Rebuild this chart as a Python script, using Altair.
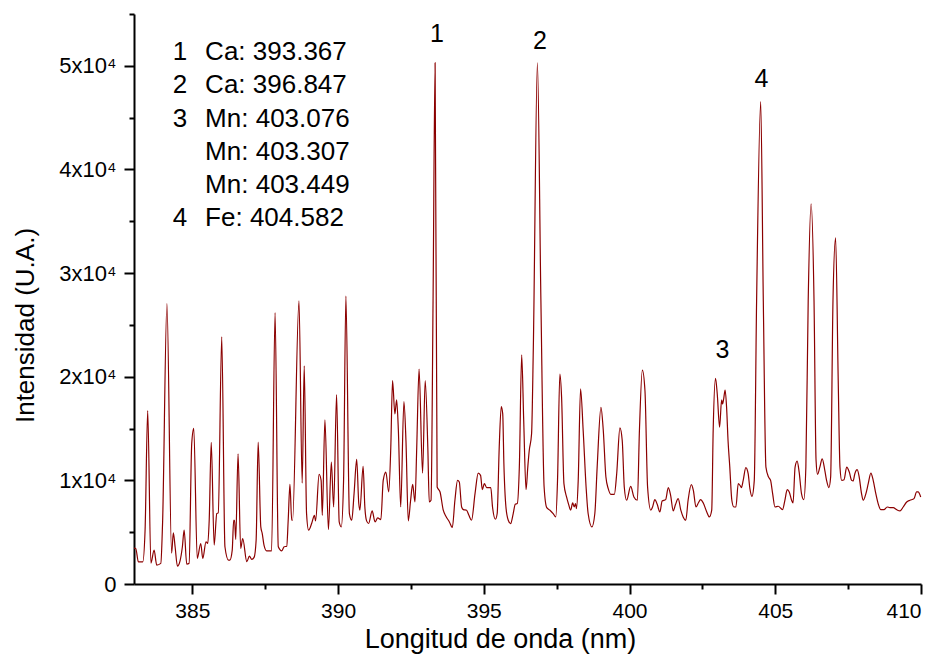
import altair as alt
import pandas as pd

# ---- spectrum (wavelength in nm, intensity in a.u.) ----
wavelength = [
    383.00, 383.06, 383.15, 383.30, 383.38, 383.47, 383.58, 383.69, 383.78, 383.92,
    383.98, 384.13, 384.29, 384.35, 384.41, 384.49, 384.58, 384.66, 384.72, 384.81,
    384.89, 384.98, 385.05, 385.17, 385.29, 385.36, 385.47, 385.53, 385.58, 385.65,
    385.75, 385.84, 385.89, 386.01, 386.12, 386.24, 386.29, 386.37, 386.42, 386.45,
    386.49, 386.57, 386.66, 386.73, 386.87, 386.96, 387.04, 387.12, 387.19, 387.26,
    387.35, 387.40, 387.46, 387.55, 387.72, 387.84, 387.95, 388.07, 388.15, 388.24,
    388.29, 388.35, 388.41, 388.44, 388.66, 388.77, 388.84, 388.92, 388.99, 389.10,
    389.19, 389.23, 389.35, 389.42, 389.46, 389.55, 389.67, 389.77, 389.85, 389.95,
    390.04, 390.11, 390.19, 390.27, 390.39, 390.47, 390.55, 390.64, 390.71, 390.75,
    390.86, 390.92, 390.98, 391.05, 391.17, 391.27, 391.36, 391.47, 391.55, 391.64,
    391.74, 391.81, 391.87, 391.95, 392.01, 392.07, 392.15, 392.26, 392.33, 392.41,
    392.49, 392.56, 392.64, 392.70, 392.78, 392.90, 392.99, 393.08, 393.13, 393.19,
    393.26, 393.33, 393.40, 393.50, 393.61, 393.70, 393.82, 393.92, 394.01, 394.10,
    394.16, 394.24, 394.30, 394.41, 394.49, 394.58, 394.70, 394.81, 394.89, 394.95,
    395.02, 395.10, 395.24, 395.30, 395.40, 395.46, 395.53, 395.60, 395.65, 395.69,
    395.76, 395.84, 395.92, 396.01, 396.08, 396.15, 396.22, 396.30, 396.37, 396.45,
    396.51, 396.56, 396.64, 396.70, 396.84, 396.96, 397.07, 397.16, 397.27, 397.38,
    397.47, 397.53, 397.61, 397.67, 397.75, 397.84, 397.91, 397.98, 398.05, 398.10,
    398.15, 398.18, 398.24, 398.32, 398.41, 398.51, 398.58, 398.71, 398.81, 398.89,
    399.02, 399.10, 399.19, 399.27, 399.36, 399.48, 399.56, 399.67, 399.75, 399.82,
    399.90, 400.04, 400.15, 400.27, 400.34, 400.44, 400.53, 400.62, 400.73, 400.79,
    400.87, 400.95, 401.04, 401.12, 401.24, 401.33, 401.41, 401.50, 401.58, 401.67,
    401.76, 401.84, 401.93, 402.01, 402.12, 402.19, 402.28, 402.36, 402.44, 402.53,
    402.65, 402.74, 402.82, 402.87, 402.95, 403.01, 403.09, 403.16, 403.19, 403.23,
    403.28, 403.33, 403.38, 403.44, 403.51, 403.58, 403.65, 403.73, 403.79, 403.84,
    403.90, 403.99, 404.07, 404.13, 404.20, 404.28, 404.36, 404.50, 404.59, 404.68,
    404.77, 404.84, 404.91, 404.99, 405.10, 405.25, 405.33, 405.41, 405.48, 405.56,
    405.61, 405.68, 405.75, 405.82, 405.90, 405.98, 406.05, 406.13, 406.23, 406.33,
    406.40, 406.45, 406.53, 406.61, 406.70, 406.76, 406.84, 406.90, 406.98, 407.07,
    407.16, 407.22, 407.28, 407.36, 407.45, 407.54, 407.62, 407.67, 407.73, 407.81,
    407.88, 407.96, 408.02, 408.11, 408.19, 408.28, 408.36, 408.45, 408.53, 408.62,
    408.73, 408.84, 408.93, 409.05, 409.16, 409.28, 409.39, 409.51, 409.62, 409.76,
    409.85, 409.90, 409.99,
]

intensity = [
    3460, 3430, 2140, 2140, 5190, 16730, 2020, 3270, 1830, 1990,
    5870, 27050, 2980, 4940, 3590, 1730, 2240, 3590, 5190, 1920,
    1990, 13530, 15030, 2470, 3910, 2470, 4070, 3910, 6150, 13680,
    3750, 6800, 6860, 23850, 3590, 2310, 2310, 3270, 6150, 6150,
    4300, 12560, 3430, 4390, 2150, 2690, 2370, 2570, 4230, 13680,
    5510, 4870, 3750, 3200, 3200, 26180, 3590, 3200, 3590, 3650,
    6150, 9620, 6150, 6150, 27310, 9740, 21060, 6800, 5190, 5890,
    6630, 6090, 10580, 10000, 6630, 15830, 5260, 11760, 7430, 18270,
    5990, 5510, 10000, 27790, 6800, 6150, 8720, 12020, 7820, 7120,
    11350, 7430, 6090, 5840, 7050, 5990, 6380, 6220, 10000, 10800,
    8880, 13200, 19620, 16410, 17760, 14810, 7430, 17600, 13850, 6090,
    8080, 9620, 7910, 13200, 20740, 10700, 19620, 13200, 7910, 8080,
    27310, 50290, 9360, 8880, 7120, 6540, 5990, 5450, 8080, 10000,
    9840, 7430, 7180, 7120, 6630, 6150, 8720, 10700, 10480, 9100,
    9680, 9300, 9300, 7430, 6250, 6800, 13200, 17120, 16410, 11600,
    7430, 6150, 5830, 6800, 7690, 7760, 11280, 22120, 15770, 9100,
    11280, 12880, 14490, 22820, 50290, 27310, 9360, 7370, 7120, 6800,
    6470, 10000, 20260, 18010, 9680, 8400, 7690, 7120, 7820, 7430,
    7760, 7280, 10000, 18820, 14810, 9360, 6800, 5510, 6800, 11280,
    17050, 14810, 10320, 9200, 8650, 8650, 10640, 15070, 13850, 9360,
    8080, 9420, 8400, 8080, 14810, 20640, 18650, 9360, 7120, 7430,
    8140, 7690, 6950, 8010, 8140, 9300, 8560, 7050, 7690, 8240,
    7120, 6470, 6150, 8080, 9580, 9040, 7430, 7820, 8140, 7820,
    6950, 6470, 7120, 14810, 19840, 18340, 15130, 17760, 17370, 17860,
    18720, 17050, 13850, 11280, 8080, 7430, 7430, 9680, 9520, 9300,
    10000, 11220, 10640, 9200, 8460, 10000, 27310, 46540, 27310, 11280,
    10320, 10000, 8720, 7430, 7500, 7180, 8080, 9100, 8880, 8080,
    7820, 11280, 11860, 10800, 8720, 8140, 11280, 27310, 36670, 27310,
    11920, 10580, 11280, 12080, 10960, 10000, 9300, 10320, 27310, 33400,
    19620, 11280, 10000, 10070, 11280, 10800, 10000, 9940, 10640, 11030,
    10320, 8720, 8080, 8720, 9680, 10700, 10000, 8720, 7760, 7180,
    7180, 7430, 7370, 7370, 7180, 7050, 7430, 7910, 8080, 8240,
    8880, 8880, 8400,
]

# ---- axis ticks ----
x_ticks = [385, 387.5, 390, 392.5, 395, 397.5, 400, 402.5, 405, 407.5, 410]
y_ticks = [0, 5000, 10000, 15000, 20000, 25000, 30000, 35000, 40000, 45000, 50000, 55000]

# ---- annotations ----
legend_num = ["1", "2", "3", "", "", "4"]
legend_txt = ["Ca: 393.367", "Ca: 396.847", "Mn: 403.076",
              "Mn: 403.307", "Mn: 403.449", "Fe: 404.582"]
peak_lbl = ["1", "2", "3", "4"]
peak_nm = [393.39, 396.93, 403.19, 404.53]
peak_int = [52330, 51590, 21780, 47990]

FONT = "Liberation Sans"
RED = "#8B0000"

spec = pd.DataFrame({"nm": wavelength, "I": intensity})

legend_top = 50560
legend_step = 3210
leg = pd.DataFrame({
    "num": legend_num,
    "txt": legend_txt,
    "y": [legend_top - i * legend_step for i in range(len(legend_txt))],
})
peaks = pd.DataFrame({"lbl": peak_lbl, "nm": peak_nm, "I": peak_int})

xscale = alt.Scale(domain=[383, 410], nice=False, zero=False)
yscale = alt.Scale(domain=[0, 55000], nice=False, zero=True)

x_axis = alt.Axis(
    values=x_ticks,
    grid=False,
    title="Longitud de onda (nm)",
    titleFont=FONT, titleFontSize=27, titleFontWeight="normal", titleColor="black",
    titleX=366, titleY=63, titleAlign="center", titleBaseline="alphabetic",
    labelFont=FONT, labelFontSize=21, labelColor="black", labelPadding=6,
    labelExpr="datum.value % 5 === 0 ? datum.label : ''",
    labelOverlap=False,
    domainColor="black", domainWidth=2,
    tickColor="black", tickWidth=2,
    tickSize={"condition": {"test": "datum.value % 5 === 0", "value": 10}, "value": 5},
)

y_axis = alt.Axis(
    values=y_ticks,
    grid=False,
    title="Intensidad (U.A.)",
    titleFont=FONT, titleFontSize=26, titleFontWeight="normal", titleColor="black",
    titleX=-96, titleY=311, titleAlign="center", titleAngle=-90,
    labelFont=FONT, labelFontSize=22, labelColor="black", labelPadding=8,
    labelExpr="datum.value === 0 ? '0' : (datum.value % 10000 === 0 ? (datum.value / 10000) + 'x10\u2074' : '')",
    labelOverlap=False,
    domainColor="black", domainWidth=2,
    tickColor="black", tickWidth=2,
    tickSize={"condition": {"test": "datum.value % 10000 === 0", "value": 10}, "value": 5},
)

line = alt.Chart(spec).mark_line(color=RED, strokeWidth=1.2, interpolate="monotone").encode(
    x=alt.X("nm:Q", scale=xscale, axis=x_axis),
    y=alt.Y("I:Q", scale=yscale, axis=y_axis),
)

leg_num = alt.Chart(leg).mark_text(
    font=FONT, fontSize=26, color="black", align="center", baseline="alphabetic"
).encode(
    x=alt.datum(384.58, type="quantitative"),
    y=alt.Y("y:Q", scale=yscale),
    text="num:N",
)

leg_txt = alt.Chart(leg).mark_text(
    font=FONT, fontSize=26, color="black", align="left", baseline="alphabetic"
).encode(
    x=alt.datum(385.44, type="quantitative"),
    y=alt.Y("y:Q", scale=yscale),
    text="txt:N",
)

peak_text = alt.Chart(peaks).mark_text(
    font=FONT, fontSize=25, color="black", align="center", baseline="alphabetic"
).encode(
    x=alt.X("nm:Q", scale=xscale),
    y=alt.Y("I:Q", scale=yscale),
    text="lbl:N",
)

chart = alt.layer(line, leg_num, leg_txt, peak_text).properties(
    width=787,
    height=570,
    padding={"left": 134, "top": 14, "right": 20, "bottom": 76},
    autosize=alt.AutoSizeParams(type="none"),
    background="white",
).configure_view(stroke=None)

chart.save("out.html", embed_options={"renderer": "svg", "actions": False})
